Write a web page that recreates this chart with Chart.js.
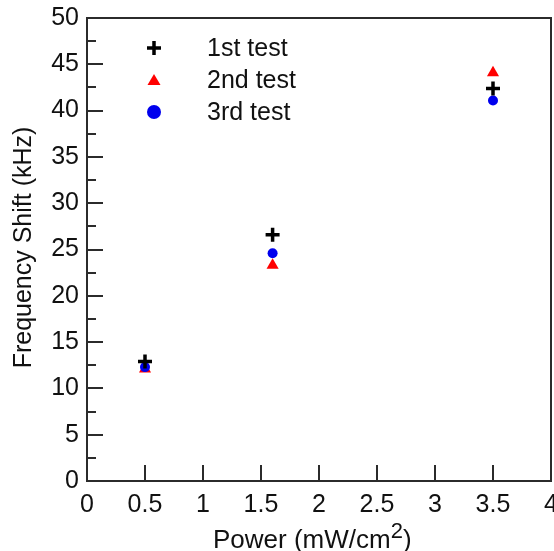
<!DOCTYPE html>
<html>
<head>
<meta charset="utf-8">
<script src="https://cdn.jsdelivr.net/npm/chart.js@4/dist/chart.umd.min.js"></script>
<style>
  html, body { margin: 0; padding: 0; background: #fff; overflow: hidden; }
  #wrap { width: 554px; height: 551px; }
</style>
</head>
<body>
<div id="wrap"><canvas id="chart"></canvas></div>
<script>
// data
var power = [0.5, 1.6, 3.5]
var test1 = [12.9, 26.6, 42.4]
var test2 = [12.1, 23.3, 44.1]
var test3 = [12.3, 24.6, 41.1]
var xTicks = [0, 0.5, 1, 1.5, 2, 2.5, 3, 3.5, 4]
var yTicks = [0, 5, 10, 15, 20, 25, 30, 35, 40, 45, 50]
var yMinor = [2.5, 7.5, 12.5, 17.5, 22.5, 27.5, 32.5, 37.5, 42.5, 47.5]
var seriesNames = ['1st test', '2nd test', '3rd test']

var FONT = 'Arial, "Liberation Sans", sans-serif'
var AXIS = '#2b2b2b'
var TEXT = '#111'

function pts(ys) {
    return power.map(function (x, i) { return { x: x, y: ys[i] } })
}

function noPadding() {
    return { left: 0, top: 0, right: 0, bottom: 0 }
}

// legend marker, same shapes as the points
function marker(ctx, kind, x, y) {
    ctx.save()
    if (kind == 0) {
        ctx.strokeStyle = '#000'
        ctx.lineWidth = 3.5
        ctx.beginPath()
        ctx.moveTo(x - 7, y); ctx.lineTo(x + 7, y)
        ctx.moveTo(x, y - 7); ctx.lineTo(x, y + 7)
        ctx.stroke()
    } else if (kind == 1) {
        ctx.fillStyle = '#ff0000'
        ctx.beginPath()
        ctx.moveTo(x, y - 6); ctx.lineTo(x + 6.5, y + 5); ctx.lineTo(x - 6.5, y + 5)
        ctx.closePath()
        ctx.fill()
    } else {
        ctx.fillStyle = '#0000ee'
        ctx.beginPath()
        ctx.arc(x, y, 7, 0, Math.PI * 2)
        ctx.fill()
    }
    ctx.restore()
}

var decor = {
    id: 'decor',
    afterDraw: function (chart) {
        var ctx = chart.ctx
        var a = chart.chartArea
        var xs = chart.scales.x
        var ys = chart.scales.y
        ctx.save()
        // frame
        ctx.strokeStyle = AXIS
        ctx.lineWidth = 2
        ctx.strokeRect(a.left, a.top, a.right - a.left, a.bottom - a.top)
        // inward ticks
        ctx.beginPath()
        xTicks.forEach(function (v) {
            var px = Math.round(xs.getPixelForValue(v))
            ctx.moveTo(px, a.bottom); ctx.lineTo(px, a.bottom - 16)
        })
        yTicks.forEach(function (v) {
            var py = Math.round(ys.getPixelForValue(v))
            ctx.moveTo(a.left, py); ctx.lineTo(a.left + 16, py)
        })
        yMinor.forEach(function (v) {
            var py = Math.round(ys.getPixelForValue(v))
            ctx.moveTo(a.left, py); ctx.lineTo(a.left + 9, py)
        })
        ctx.stroke()

        // legend
        ctx.fillStyle = TEXT
        ctx.font = '25px ' + FONT
        ctx.textBaseline = 'middle'
        ctx.textAlign = 'left'
        seriesNames.forEach(function (name, i) {
            var y = 48 + i * 32
            marker(ctx, i, 154, y)
            ctx.fillText(name, 207, y + 1)
        })

        // y title
        ctx.save()
        ctx.translate(24, (a.top + a.bottom) / 2 - 2)
        ctx.rotate(-Math.PI / 2)
        ctx.textAlign = 'center'
        ctx.textBaseline = 'middle'
        ctx.fillText('Frequency Shift (kHz)', 0, 0)
        ctx.restore()

        // x title with superscript
        var main = 'Power (mW/cm'
        ctx.font = '26px ' + FONT
        var w1 = ctx.measureText(main).width
        ctx.font = '22px ' + FONT
        var w2 = ctx.measureText('2').width
        var x0 = 213
        var base = 548
        ctx.textBaseline = 'alphabetic'
        ctx.font = '26px ' + FONT
        ctx.fillText(main, x0, base)
        ctx.font = '22px ' + FONT
        ctx.fillText('2', x0 + w1, base - 10)
        ctx.font = '26px ' + FONT
        ctx.fillText(')', x0 + w1 + w2, base)
        ctx.restore()
    }
}

var ctx = document.getElementById('chart').getContext('2d')
var chart = new Chart(ctx, {
    type: 'scatter',
    data: {
        datasets: [
            {
                label: seriesNames[0],
                data: pts(test1),
                pointStyle: 'cross',
                pointRadius: 7,
                pointBorderWidth: 3.5,
                borderColor: '#000',
                backgroundColor: '#000',
                order: 0
            },
            {
                label: seriesNames[1],
                data: pts(test2),
                pointStyle: 'triangle',
                pointRadius: 7,
                pointBorderWidth: 0,
                borderColor: '#ff0000',
                backgroundColor: '#ff0000',
                order: 2
            },
            {
                label: seriesNames[2],
                data: pts(test3),
                pointStyle: 'circle',
                pointRadius: 5,
                pointBorderWidth: 0,
                borderColor: '#0000ee',
                backgroundColor: '#0000ee',
                order: 1
            }
        ]
    },
    options: {
        responsive: true,
        maintainAspectRatio: false,
        animation: false,
        layout: { autoPadding: false, padding: { top: 18, right: 3, left: 0, bottom: 0 } },
        plugins: {
            legend: { display: false },
            tooltip: { enabled: false }
        },
        scales: {
            x: {
                type: 'linear',
                min: 0,
                max: 4,
                grid: { display: false, drawTicks: false },
                border: { display: false },
                afterBuildTicks: function (s) {
                    s.ticks = xTicks.map(function (v) { return { value: v } })
                },
                afterFit: function (s) {
                    s.height = 70
                    s.paddingLeft = 0
                    s.paddingRight = 0
                    s.getPadding = noPadding
                },
                ticks: {
                    color: TEXT,
                    font: { family: FONT, size: 25 },
                    padding: 9,
                    maxRotation: 0,
                    autoSkip: false,
                    callback: function (v) { return String(v) }
                }
            },
            y: {
                type: 'linear',
                min: 0,
                max: 50,
                grid: { display: false, drawTicks: false },
                border: { display: false },
                afterBuildTicks: function (s) {
                    s.ticks = yTicks.map(function (v) { return { value: v } })
                },
                afterFit: function (s) {
                    s.width = 87
                    s.paddingTop = 0
                    s.paddingBottom = 0
                    s.getPadding = noPadding
                },
                ticks: {
                    color: TEXT,
                    font: { family: FONT, size: 25 },
                    padding: 8,
                    autoSkip: false,
                    callback: function (v) { return String(v) }
                }
            }
        }
    },
    plugins: [decor]
})
</script>
</body>
</html>
